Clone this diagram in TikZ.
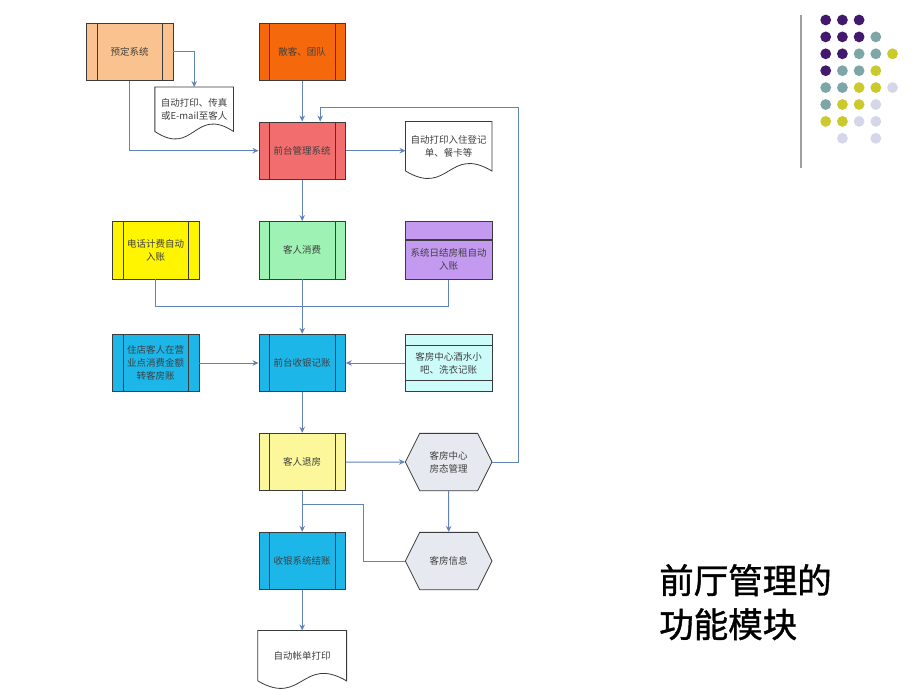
\documentclass[tikz,border=0pt]{standalone}
\usepackage{fontspec}
\newfontfamily\cjk{Noto Sans CJK SC}
\newfontfamily\cjkhead[FakeBold=1.2]{Noto Sans CJK SC}
\usetikzlibrary{positioning,calc,arrows.meta,shapes.symbols}

\definecolor{peachc}{HTML}{FAC28E}
\definecolor{orangec}{HTML}{F5680C}
\definecolor{redc}{HTML}{F26D6D}
\definecolor{yellowc}{HTML}{FFF500}
\definecolor{greenc}{HTML}{9EF2B3}
\definecolor{purplec}{HTML}{C49AF0}
\definecolor{cyanc}{HTML}{1CB6E8}
\definecolor{lcyanc}{HTML}{CCFCFA}
\definecolor{lyellowc}{HTML}{FBF79A}
\definecolor{hexc}{HTML}{E6E9EF}
\definecolor{linec}{HTML}{6283B8}
\definecolor{boxline}{HTML}{3B3B3B}
\definecolor{dotp}{HTML}{41196F}
\definecolor{dott}{HTML}{7EA5A7}
\definecolor{doty}{HTML}{CACA2C}
\definecolor{dotl}{HTML}{D6D6EA}

% document shape: straight top and sides, wavy bottom
\newcommand\docframe[1]{%
  \draw[boxframe] (#1.south west) -- (#1.north west) -- (#1.north east) -- (#1.south east)
    .. controls ($(#1.south)+(0,26pt)$) and ($(#1.south)+(0,-26pt)$) .. (#1.south west);}

\begin{document}
\begin{tikzpicture}
  \tikzset{
    node distance=146.5pt,
    every node/.style={font=\cjk\fontsize{9.5pt}{13pt}\selectfont, text=black!75, align=center, inner sep=1pt},
    boxframe/.style={draw=boxline, line width=0.8pt},
    plainbox/.style={boxframe, rectangle, minimum width=86.5pt, minimum height=57.5pt},
    procbox/.style={plainbox, path picture={
        \draw[boxframe] ([xshift=10.5pt]path picture bounding box.north west) -- ([xshift=10.5pt]path picture bounding box.south west)
                        ([xshift=-10.5pt]path picture bounding box.north east) -- ([xshift=-10.5pt]path picture bounding box.south east);}},
    bandbox/.style={plainbox, path picture={
        \draw[boxframe] ([yshift=-11pt]path picture bounding box.north west) -- ([yshift=-11pt]path picture bounding box.north east)
                        ([yshift=11pt]path picture bounding box.south west) -- ([yshift=11pt]path picture bounding box.south east);}},
    docbox/.style={rectangle, minimum width=86.5pt, minimum height=49pt},
    hexbox/.style={boxframe, signal, signal to=west and east, signal pointer angle=127, fill=hexc,
        minimum width=86.6pt, minimum height=57.3pt},
    conn/.style={draw=linec, line width=1pt},
    arr/.style={conn, -{Stealth[length=6pt, width=5.5pt]}}
  }

  \fill[white] (0,0) rectangle (920pt,-690pt);
  \useasboundingbox (0,0) rectangle (920pt,-690pt);

  % main column
  \node[procbox, fill=orangec] (sanke) at (302.2pt,-52pt) {散客、团队};
  \node[procbox, fill=redc, node distance=98.7pt, below of=sanke] (qiantai) {前台管理系统};
  \node[procbox, fill=greenc, node distance=99.6pt, below of=qiantai] (xiaofei) {客人消费};
  \node[procbox, fill=cyanc, node distance=112.7pt, below of=xiaofei] (shouyin) {前台收银记账};
  \node[procbox, fill=lyellowc, node distance=99pt, below of=shouyin] (tuifang) {客人退房};
  \node[procbox, fill=cyanc, node distance=99pt, below of=tuifang] (jiezhang) {收银系统结账};
  \node[docbox, minimum width=88.4pt, minimum height=50pt, node distance=94.7pt, below of=jiezhang] (zhangdan) {自动帐单打印};
  \docframe{zhangdan}

  % side boxes
  \node[procbox, fill=peachc, node distance=172.5pt, left of=sanke] (yuding) {预定系统};
  \node[docbox, minimum width=78.3pt, minimum height=44pt, node distance=57.3pt, below of=yuding, xshift=64.5pt] (chuanzhen) {自动打印、传真\\或E-mail至客人};
  \docframe{chuanzhen}
  \node[docbox, minimum width=86pt, minimum height=49pt, right of=qiantai, yshift=4.4pt] (dengji) {自动打印入住登记\\单、餐卡等};
  \docframe{dengji}

  \node[procbox, fill=yellowc, left of=xiaofei] (dianhua) {电话计费自动\\入账};
  \node[plainbox, fill=purplec, minimum height=39.2pt, right of=xiaofei, yshift=-9.3pt] (rijie) {系统日结房租自动\\入账};
  \draw[boxframe, fill=purplec] (rijie.north west) rectangle ([yshift=18.3pt]rijie.north east);

  \node[procbox, fill=cyanc, left of=shouyin] (zhudian) {住店客人在营\\业点消费金额\\转客房账};
  \node[bandbox, fill=lcyanc, right of=shouyin] (jiushui) {客房中心酒水小\\吧、洗衣记账};

  \node[hexbox, right of=tuifang] (fangtai) {客房中心\\房态管理};
  \node[hexbox, right of=jiezhang] (xinxi) {客房信息};

  \coordinate (join) at ($(xiaofei.south)!.5!(shouyin.north)$);
  \coordinate (merge) at ([yshift=-13.3pt]tuifang.south);

  % connectors
  \draw[arr] (yuding.east) -| (chuanzhen.north);
  \draw[arr] (yuding.south) |- (qiantai.west);
  \draw[arr] (sanke) -- (qiantai);
  \draw[arr] (qiantai.east) -- (qiantai.east -| dengji.west);
  \draw[arr] (qiantai) -- (xiaofei);
  \draw[conn] (dianhua.south) |- (join) -| (rijie.south);
  \draw[arr] (xiaofei) -- (shouyin);
  \draw[arr] (zhudian) -- (shouyin);
  \draw[arr] (jiushui) -- (shouyin);
  \draw[arr] (shouyin) -- (tuifang);
  \draw[arr] (tuifang) -- (fangtai);
  \draw[arr] (fangtai) -- (xinxi);
  \draw[arr] (fangtai.east) -- ++(26pt,0) |- ([xshift=18pt,yshift=14pt]qiantai.north) -- ([xshift=18pt]qiantai.north);
  \draw[arr] (tuifang) -- (jiezhang);
  \draw[conn] (xinxi.west) -| ([xshift=61pt]merge) -- (merge);
  \draw[arr] (jiezhang) -- (zhangdan);

  % title
  \node[anchor=north west, align=left, inner sep=0pt, text=black,
        font=\cjkhead\fontsize{34.5pt}{44pt}\selectfont] (title) at (659pt,-564pt) {前厅管理的\\功能模块};

  % dot grid and rule
  \draw[gray!75, line width=1.2pt] (801pt,-15pt) -- (801pt,-168pt);
  \foreach \c/\r/\col in {0/0/dotp,1/0/dotp,2/0/dotp,
                          0/1/dotp,1/1/dotp,2/1/dotp,3/1/dott,
                          0/2/dotp,1/2/dotp,2/2/dott,3/2/dott,4/2/doty,
                          0/3/dotp,1/3/dott,2/3/dott,3/3/doty,
                          0/4/dott,1/4/dott,2/4/doty,3/4/doty,4/4/dotl,
                          0/5/dott,1/5/doty,2/5/doty,3/5/dotl,
                          0/6/doty,1/6/doty,2/6/dotl,3/6/dotl,
                          1/7/dotl,3/7/dotl}
    \fill[\col] ({825.7pt+\c*16.7pt},{-20pt-\r*16.9pt}) circle (5.4pt);
\end{tikzpicture}
\end{document}
